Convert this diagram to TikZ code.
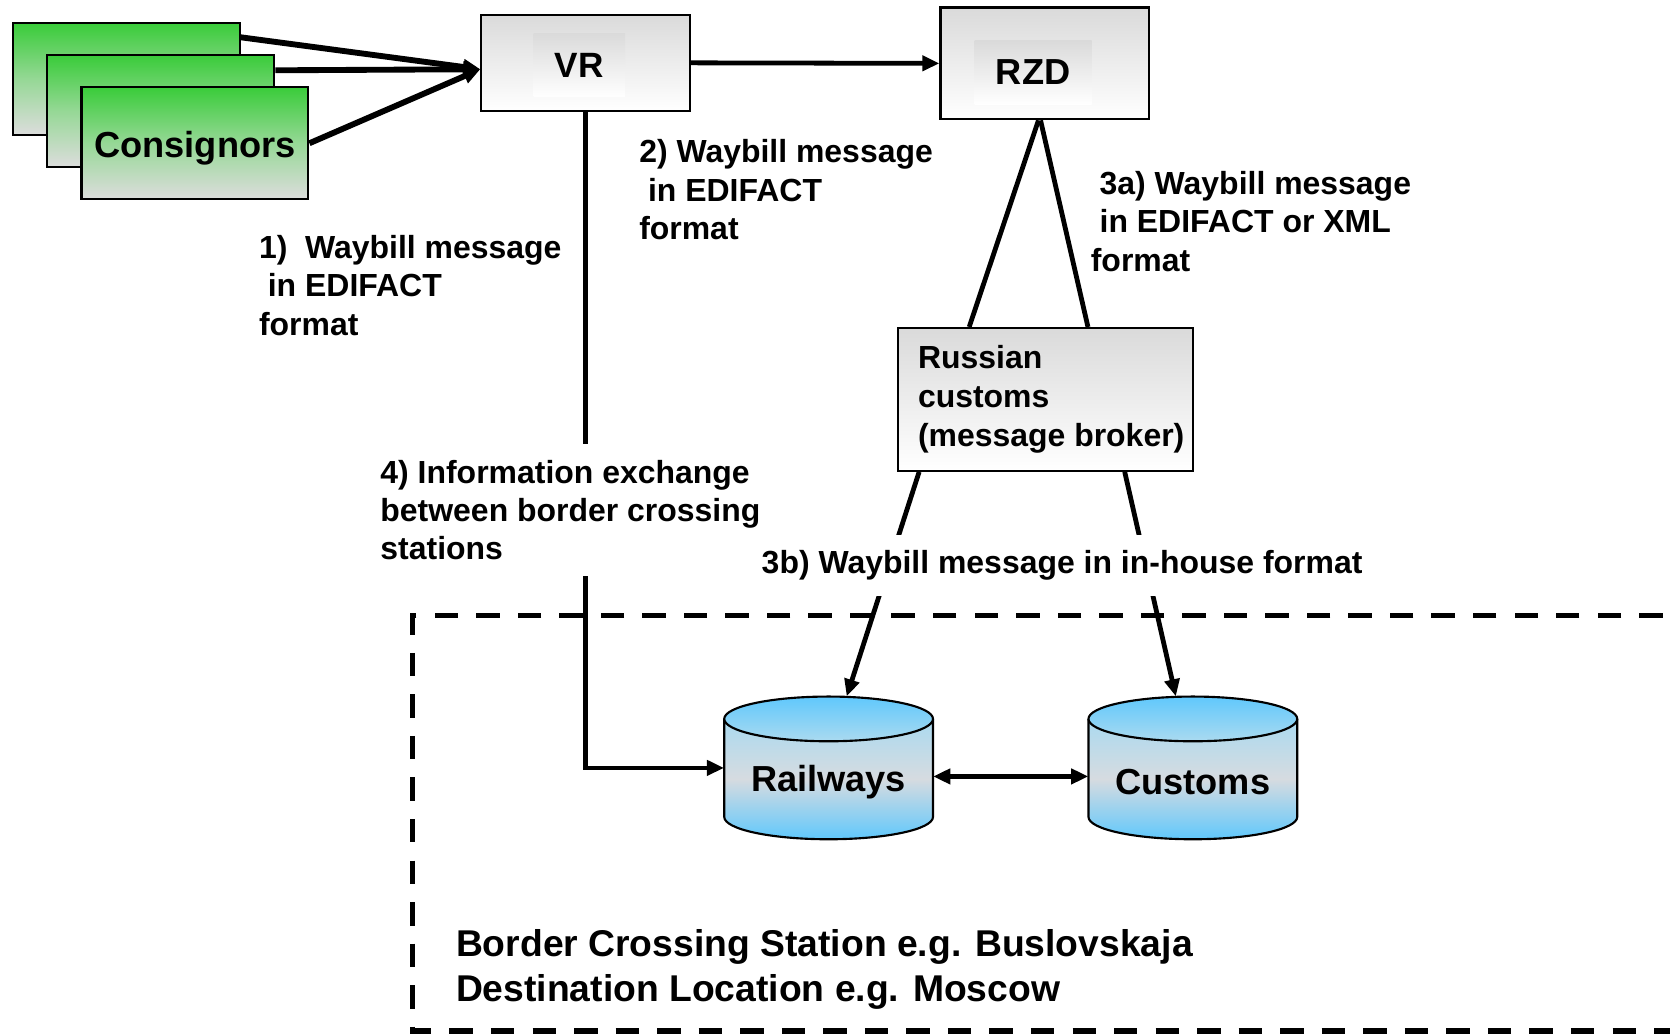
\documentclass[tikz,border=0pt]{standalone}
\usepackage{fontspec}
\setmainfont{Liberation Sans}
\usetikzlibrary{arrows.meta,calc}
\definecolor{cgreen}{RGB}{58,204,58}
\definecolor{cgmid}{RGB}{150,216,150}
\definecolor{cgbot}{RGB}{221,221,221}
\definecolor{boxgray}{RGB}{218,218,218}
\definecolor{cylblue}{RGB}{96,200,252}
\definecolor{cyllight}{RGB}{170,218,240}
\definecolor{cylgray}{RGB}{214,219,224}
\tikzset{
  tip/.style={-{Triangle[length=16pt,width=14pt]}},
  dtip/.style={{Triangle[length=16pt,width=14pt]}-{Triangle[length=16pt,width=14pt]}},
  conn/.style={line width=4.5pt},
  consbox/.style={draw, line width=2pt, minimum width=213pt, minimum height=105pt, inner sep=0pt,
    top color=cgreen, bottom color=cgbot, middle color=cgmid},
  graybox/.style={draw, line width=2pt, inner sep=0pt, top color=boxgray, bottom color=white},
  innerbox/.style={inner sep=0pt, top color=boxgray, bottom color=white},
  lbl/.style={inner sep=0pt, anchor=west, align=left, font=\fontsize{30}{36}\selectfont\bfseries},
  bigtxt/.style={inner sep=0pt, font=\fontsize{34}{40}\selectfont\bfseries},
  frame/.style={line width=5pt, dash pattern=on 22pt off 17pt}
}
\newcommand{\mydrum}[4]{%
  \shade[top color=cyllight, bottom color=cylblue, middle color=cylgray]
    (#2-98,675) -- (#2-98,767) arc[start angle=180,end angle=0,x radius=98,y radius=21] -- (#2+98,675) -- cycle;
  \draw[line width=2pt] (#2-98,675) -- (#2-98,767) arc[start angle=180,end angle=0,x radius=98,y radius=21] -- (#2+98,675);
  \draw[line width=2pt, top color=cylblue, bottom color=cyllight] (#2,675) ellipse[x radius=98, y radius=21];
  \node[minimum width=196pt, minimum height=134pt, inner sep=0pt] (#1) at (#2,721) {};
  \node[bigtxt] (#1t) at (#2,734) {#3};
}
\begin{document}
\begin{tikzpicture}[x=1pt,y=-1pt]
\useasboundingbox (0,0) rectangle (1568,972);
\clip (0,0) rectangle (1568,972);

% dashed frame
\draw[frame] (1600,578) -- (387,578) -- (387,968) -- (1600,968);

% consignors
\node[consbox] (c1) at (118.5,74.5) {};
\node[consbox] (c2) at (151,104.5) {};
\node[consbox, font=\fontsize{34}{40}\selectfont\bfseries] (c3) at (183,134.5) {\raisebox{0pt}[33pt][7pt]{Consignors}};

% VR
\node[graybox, minimum width=196pt, minimum height=90pt] (vr) at (550,59) {};
\node[innerbox, minimum width=86pt, minimum height=60pt, font=\fontsize{33}{40}\selectfont\bfseries] (vrt) at (544,61) {VR};

% RZD
\node[graybox, minimum width=196pt, minimum height=105pt] (rzd) at (981,59.5) {};
\node[innerbox, minimum width=110pt, minimum height=60pt, font=\fontsize{34}{40}\selectfont\bfseries] (rzdt) at (970,68) {RZD};

% Russian customs
\node[graybox, minimum width=277pt, minimum height=134pt, align=left,
  font=\fontsize{30}{36.5}\selectfont\bfseries]
  (rc) at (981.5,375) {\hspace*{11pt}Russian\\\hspace*{11pt}customs\\\hspace*{11pt}(message broker)};

% cylinders
\mydrum{rail}{778}{Railways}{}
\mydrum{cus}{1120}{Customs}{}

% connectors
\coordinate (vrin) at ($(vr.west)+(0,6)$);
\draw[line width=5.5pt, tip] ($(c1.north east)+(0,14)$) -- (vrin);
\draw[line width=5.5pt, tip] ($(c2.north east)+(0,15)$) -- (vrin);
\draw[line width=5.5pt, tip] (c3.east) -- (vrin);
\draw[conn, tip] (vr.east) -- (rzd.west);
\draw[conn] ([xshift=-6pt]rzd.south) -- ([xshift=-71.5pt]rc.north);
\draw[conn] ([xshift=-4pt]rzd.south) -- ([xshift=40pt]rc.north);
\draw[conn, tip] ([xshift=21pt]rc.south west) -- ([xshift=17pt]rail.north);
\draw[conn, tip] ([xshift=-65pt]rc.south east) -- ([xshift=-16pt]cus.north);
\draw[conn, tip] (vr.south) |- (rail.west);
\draw[conn, dtip] ($(rail.east)+(0,8)$) -- ($(cus.west)+(0,8)$);

% labels
\node[lbl] (l1) at (243,268) {1)\ \ Waybill message\\\hspace*{8.3pt}in EDIFACT\\format};
\node[lbl] (l2) at (600,178) {2) Waybill message\\\hspace*{8.3pt}in EDIFACT\\format};
\node[lbl] (l3a) at (1024,208) {\hspace*{8.3pt}3a) Waybill message\\\hspace*{8.3pt}in EDIFACT or XML\\format};
\node[lbl, fill=white, inner sep=15pt] (l4) at (342,479) {4) Information exchange\\between border crossing\\stations};
\node[lbl, fill=white, inner sep=15pt] (l3b) at (700,531) {3b) Waybill message in in-house format};

\node[lbl, font=\fontsize{35}{42}\selectfont\bfseries] (bt) at (428,910) {Border Crossing Station e.g. Buslovskaja\\Destination Location e.g. Moscow};
\end{tikzpicture}
\end{document}
